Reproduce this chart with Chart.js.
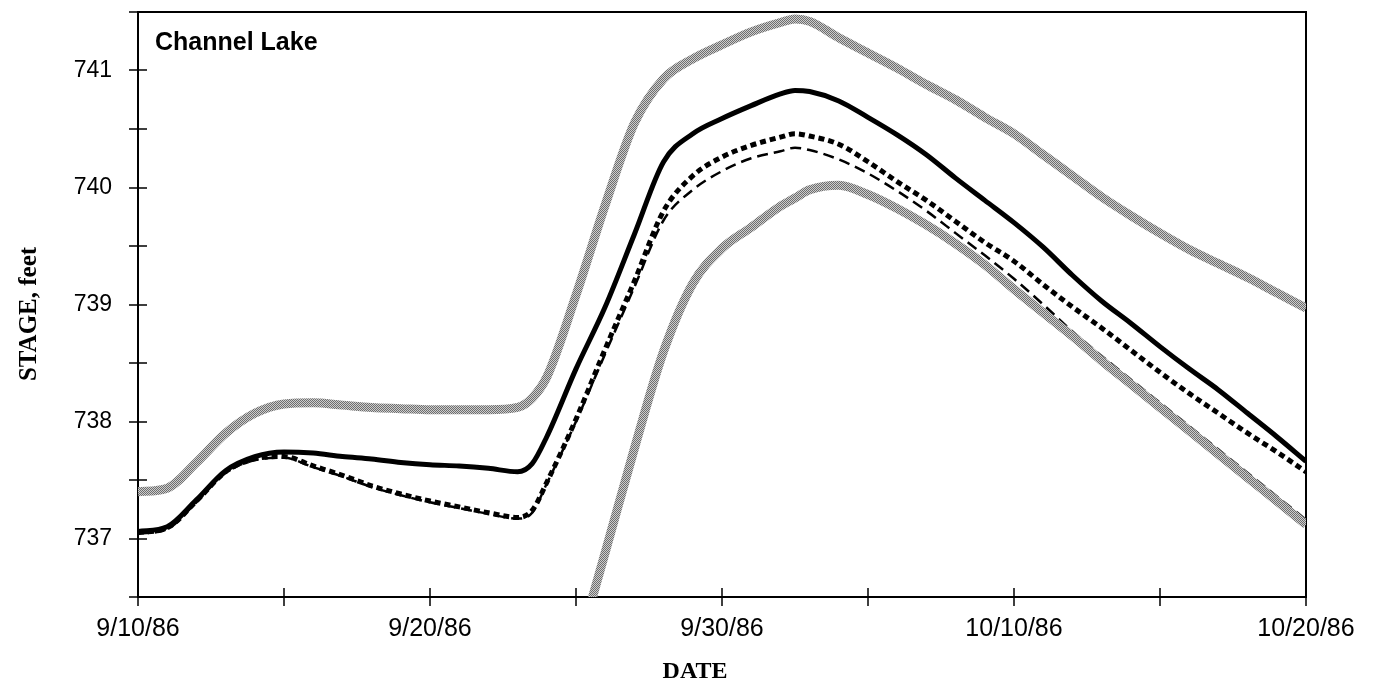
<!DOCTYPE html>
<html>
<head>
<meta charset="utf-8">
<script src="https://cdn.jsdelivr.net/npm/chart.js@4/dist/chart.umd.min.js"></script>
<style>
  html, body { margin: 0; padding: 0; background: #fff; }
</style>
</head>
<body>
<canvas id="stage" width="1374" height="691"></canvas>
<script>
// days after 9/10/86
var days = [0, 1, 2, 3, 4, 5, 6, 7, 8, 9, 10, 11, 12, 13, 13.5, 14, 15, 16, 17, 18, 19, 20, 21, 22, 22.5,
            23, 24, 25, 26, 27, 28, 29, 30, 31, 32, 33, 34, 35, 36, 37, 38, 39, 40];

// lake stage, feet
var stageUpper = [737.40, 737.43, 737.65, 737.90, 738.07, 738.15, 738.16, 738.14, 738.12, 738.11, 738.10, 738.10, 738.10, 738.12, 738.20,
                  738.38, 739.08, 739.85, 740.55, 740.93, 741.10, 741.22, 741.33, 741.41, 741.44,
                  741.42, 741.28, 741.15, 741.02, 740.88, 740.75, 740.60, 740.46, 740.28, 740.10, 739.92, 739.76, 739.61, 739.47, 739.35, 739.23, 739.10, 738.97];
var stageSolid = [737.06, 737.10, 737.33, 737.58, 737.70, 737.74, 737.73, 737.70, 737.68, 737.65, 737.63, 737.62, 737.60, 737.57, 737.64,
                  737.87, 738.45, 738.98, 739.60, 740.22, 740.46, 740.59, 740.70, 740.80, 740.83,
                  740.82, 740.74, 740.60, 740.45, 740.28, 740.08, 739.89, 739.70, 739.49, 739.25, 739.03, 738.84, 738.64, 738.45, 738.27, 738.07, 737.87, 737.66];
var stageDotted = [737.05, 737.09, 737.32, 737.57, 737.68, 737.70, 737.62, 737.54, 737.45, 737.38, 737.32, 737.27, 737.22, 737.18, 737.24,
                   737.48, 738.02, 738.62, 739.20, 739.80, 740.10, 740.26, 740.36, 740.43, 740.46,
                   740.44, 740.37, 740.22, 740.05, 739.89, 739.71, 739.53, 739.37, 739.17, 738.98, 738.80, 738.61, 738.42, 738.24, 738.07, 737.90, 737.74, 737.57];
var stageDashed = [737.04, 737.08, 737.31, 737.56, 737.67, 737.69, 737.61, 737.53, 737.44, 737.37, 737.31, 737.26, 737.21, 737.17, 737.22,
                   737.47, 738.00, 738.58, 739.15, 739.72, 739.98, 740.14, 740.25, 740.31, 740.34,
                   740.32, 740.24, 740.12, 739.97, 739.80, 739.61, 739.42, 739.22, 739.00, 738.77, 738.56, 738.36, 738.16, 737.96, 737.76, 737.56, 737.36, 737.16];
var stageLower = [null, null, null, null, null, null, null, null, null, null, null, null, null, null, null,
                  null, 736.00, 736.88, 737.77, 738.60, 739.18, 739.48, 739.66, 739.84, 739.91,
                  739.98, 740.02, 739.94, 739.82, 739.68, 739.52, 739.34, 739.13, 738.93, 738.73, 738.52, 738.32, 738.12, 737.92, 737.72, 737.52, 737.32, 737.12];

var xTickDays = [0, 10, 20, 30, 40];
var xTickLabels = ['9/10/86', '9/20/86', '9/30/86', '10/10/86', '10/20/86'];
var yTickLabels = [737, 738, 739, 740, 741];

function points(vals) {
    var out = [];
    for (var i = 0; i < days.length; i++) {
        if (vals[i] !== null) out.push({x: days[i], y: vals[i]});
    }
    return out;
}

// checker dot screen used for the gray envelope lines
function stipple() {
    var c = document.createElement('canvas');
    c.width = 2; c.height = 2;
    var g = c.getContext('2d');
    g.fillStyle = '#cdcdcd';
    g.fillRect(0, 0, 2, 2);
    g.fillStyle = '#6e6e6e';
    g.fillRect(0, 0, 1, 1);
    g.fillRect(1, 1, 1, 1);
    return g.createPattern(c, 'repeat');
}
var gray = stipple();

var frame = {
    id: 'frame',
    beforeDatasetsDraw: function(chart) {
        var ctx = chart.ctx, a = chart.chartArea;
        ctx.save();
        ctx.strokeStyle = '#000';
        ctx.lineWidth = 2;
        ctx.strokeRect(a.left, a.top, a.right - a.left, a.bottom - a.top);
        ctx.restore();
    },
    afterDraw: function(chart) {
        var ctx = chart.ctx, a = chart.chartArea;
        var xs = chart.scales.x, ys = chart.scales.y;
        ctx.save();
        // tick marks cross the axis lines
        ctx.strokeStyle = '#000';
        ctx.lineWidth = 1.5;
        ctx.beginPath();
        xs.ticks.forEach(function(t) {
            var px = Math.round(xs.getPixelForValue(t.value));
            ctx.moveTo(px, a.bottom - 9);
            ctx.lineTo(px, a.bottom + 9);
        });
        ys.ticks.forEach(function(t) {
            var py = Math.round(ys.getPixelForValue(t.value));
            ctx.moveTo(a.left - 9, py);
            ctx.lineTo(a.left + 9, py);
        });
        ctx.stroke();

        ctx.fillStyle = '#000';
        ctx.font = 'bold 25px "Liberation Sans", Arial, sans-serif';
        ctx.textAlign = 'left';
        ctx.textBaseline = 'alphabetic';
        ctx.fillText('Channel Lake', a.left + 17, a.top + 38);

        ctx.font = 'bold 24px "Liberation Serif", "Times New Roman", serif';
        ctx.textAlign = 'center';
        ctx.textBaseline = 'middle';
        ctx.fillText('DATE', 695, 672);

        ctx.translate(30, 314);
        ctx.rotate(-Math.PI / 2);
        ctx.font = 'bold 25px "Liberation Serif", "Times New Roman", serif';
        ctx.fillText('STAGE, feet', 0, 0);
        ctx.restore();
    }
};

var base = {
    pointRadius: 0,
    fill: false,
    cubicInterpolationMode: 'monotone'
};

new Chart(document.getElementById('stage'), {
    type: 'line',
    data: {
        datasets: [
            Object.assign({data: points(stageSolid), borderColor: '#000', borderWidth: 5}, base),
            Object.assign({data: points(stageDotted), borderColor: '#000', borderWidth: 5, borderDash: [6, 4]}, base),
            Object.assign({data: points(stageLower), borderColor: gray, borderWidth: 9}, base),
            Object.assign({data: points(stageDashed), borderColor: '#000', borderWidth: 2.5, borderDash: [11, 6]}, base),
            Object.assign({data: points(stageUpper), borderColor: gray, borderWidth: 9}, base)
        ]
    },
    options: {
        responsive: false,
        animation: false,
        devicePixelRatio: 1,
        layout: {padding: {top: 12, right: 68, left: 0, bottom: 0}},
        plugins: {legend: {display: false}, tooltip: {enabled: false}},
        scales: {
            x: {
                type: 'linear',
                min: 0,
                max: 40,
                afterFit: function(s) {
                    s.height = 94;
                    s.paddingLeft = 0;
                    s.paddingRight = 0;
                },
                grid: {display: false, drawTicks: false},
                border: {display: false},
                ticks: {
                    stepSize: 5,
                    autoSkip: false,
                    maxRotation: 0,
                    padding: 17,
                    color: '#000',
                    font: {family: '"Liberation Sans", Arial, sans-serif', size: 25},
                    callback: function(v) {
                        var i = xTickDays.indexOf(v);
                        return i < 0 ? '' : xTickLabels[i];
                    }
                }
            },
            y: {
                min: 736.5,
                max: 741.5,
                afterFit: function(s) {
                    s.width = 138;
                    s.paddingTop = 0;
                    s.paddingBottom = 0;
                },
                grid: {display: false, drawTicks: false},
                border: {display: false},
                ticks: {
                    stepSize: 0.5,
                    autoSkip: false,
                    padding: 26,
                    color: '#000',
                    font: {family: '"Liberation Sans", Arial, sans-serif', size: 23},
                    callback: function(v) {
                        return yTickLabels.indexOf(v) < 0 ? '' : String(v);
                    }
                }
            }
        }
    },
    plugins: [frame]
});
</script>
</body>
</html>
